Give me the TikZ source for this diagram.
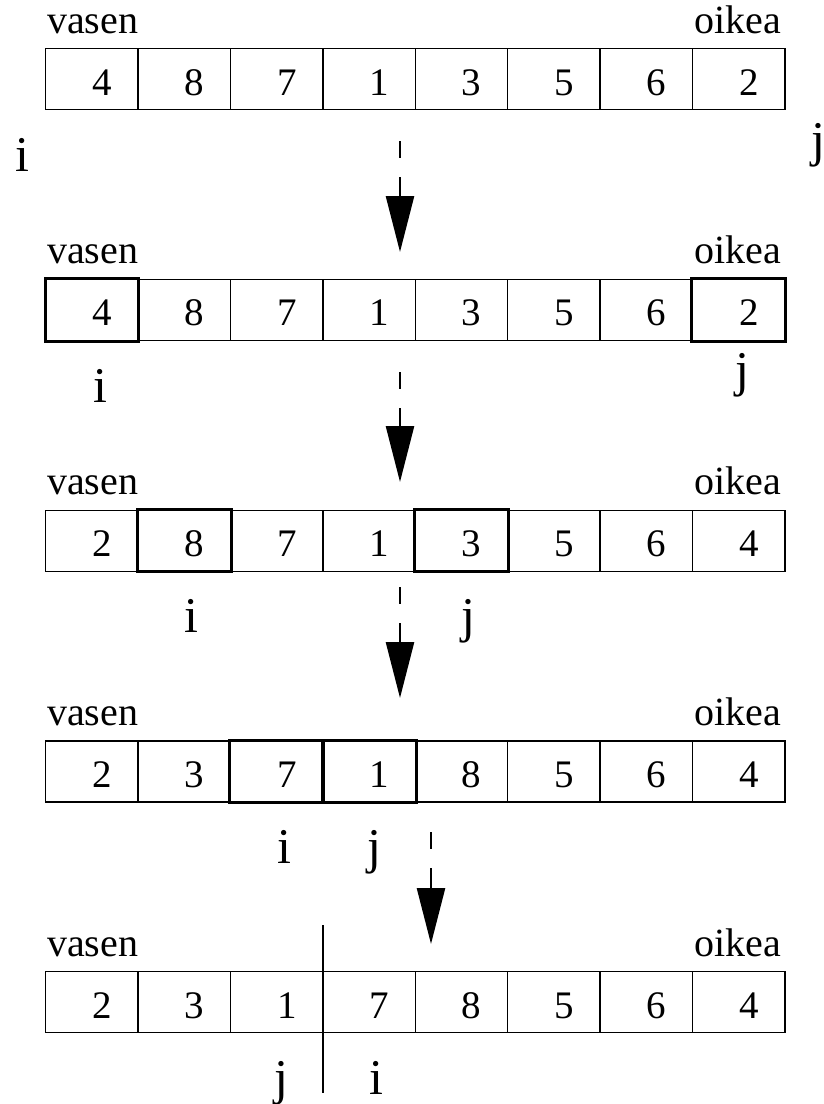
\documentclass[tikz,border=0pt]{standalone}
\usepackage{fontspec}
\setmainfont{Liberation Serif}
\usetikzlibrary{arrows.meta}
\begin{document}
\begin{tikzpicture}[x=1bp,y=-1bp,
  cellbox/.style={draw, line width=1.4bp, minimum width=92.4bp, minimum height=61bp, inner sep=0pt, anchor=north west},
  hibox/.style={draw, line width=3bp},
  digit/.style={anchor=base, font=\fontsize{39bp}{46bp}\selectfont, inner sep=0pt},
  lbl/.style={font=\fontsize{40bp}{48bp}\selectfont, inner sep=0pt},
  ptr/.style={anchor=base, font=\fontsize{50bp}{60bp}\selectfont, inner sep=0pt},
  flow/.style={line width=2.6bp, dash pattern=on 17bp off 19bp on 300bp, -{Triangle[length=56bp,width=28bp]}},
  divider/.style={line width=2.6bp}]
\useasboundingbox (0,0) rectangle (824,1104);
\foreach \r/\vals in {1/{4,8,7,1,3,5,6,2},2/{4,8,7,1,3,5,6,2},3/{2,8,7,1,3,5,6,4},4/{2,3,7,1,8,5,6,4},5/{2,3,1,7,8,5,6,4}}{
  \pgfmathsetmacro\T{48+230.75*(\r-1)}
  \node[lbl, anchor=base west] (v\r) at (47,\T-15) {vasen};
  \node[lbl, anchor=base east] (o\r) at (781,\T-15) {oikea};
  \foreach \v [count=\c] in \vals {
    \pgfmathsetmacro\L{45+92.4*(\c-1)}
    \node[cellbox] (r\r c\c) at (\L,\T) {};
    \node[digit] (d\r c\c) at (\L+57,\T+47) {\v};
  }
}
% highlighted cells
\foreach \r/\c in {2/1,2/8,3/2,3/5,4/3,4/4}{
  \draw[hibox] (r\r c\c.north west) rectangle (r\r c\c.south east);
}
% pointers
\node[ptr] (i1) at (22,171) {i};
\node[ptr] (j1) at (818,156) {j};
\node[ptr] (i2) at (100,402) {i};
\node[ptr] (j2) at (742,386) {j};
\node[ptr] (i3) at (191,632) {i};
\node[ptr] (j3) at (468,632) {j};
\node[ptr] (i4) at (284,863) {i};
\node[ptr] (j4) at (374,863) {j};
\node[ptr] (j5) at (281,1094) {j};
\node[ptr] (i5) at (376,1094) {i};
% arrows
\coordinate (a1s) at (400,141); \coordinate (a1e) at (400,252);
\coordinate (a2s) at (400,372); \coordinate (a2e) at (400,482);
\coordinate (a3s) at (400,587); \coordinate (a3e) at (400,698);
\coordinate (a4s) at (431,832); \coordinate (a4e) at (431,944);
\draw[flow] (a1s) -- (a1e);
\draw[flow] (a2s) -- (a2e);
\draw[flow] (a3s) -- (a3e);
\draw[flow] (a4s) -- (a4e);
% partition divider
\coordinate (s1) at (323,925);
\coordinate (s2) at (323,1093);
\draw[divider] (s1) -- (s2);
\end{tikzpicture}
\end{document}
